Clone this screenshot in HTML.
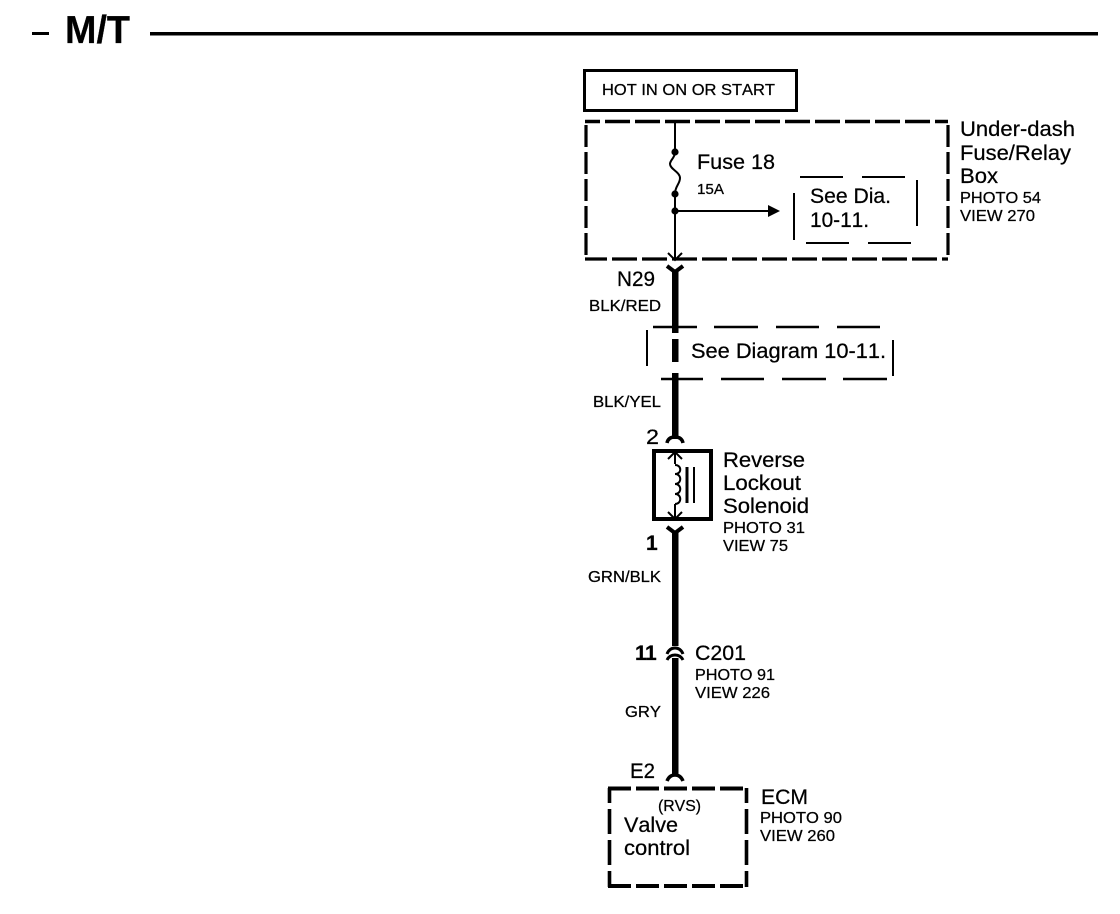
<!DOCTYPE html>
<html><head><meta charset="utf-8">
<style>
html,body{margin:0;padding:0;background:#fff;}
svg{display:block;}
text{font-family:"Liberation Sans",sans-serif;fill:#000;stroke:#000;stroke-width:.25px;font-kerning:none;}
.b{font-size:21px;}
.s{font-size:16px;}
</style></head>
<body>
<svg width="1120" height="914" viewBox="0 0 1120 914" xmlns="http://www.w3.org/2000/svg">
<rect width="1120" height="914" fill="#fff"/>

<!-- Title -->
<rect x="32" y="32" width="17" height="3"/>
<rect x="150" y="32" width="948" height="3.5"/>
<text x="65" y="43" font-size="39" font-weight="bold" textLength="65" lengthAdjust="spacingAndGlyphs">M/T</text>

<!-- HOT box -->
<rect x="584.5" y="70.5" width="212" height="40" fill="none" stroke="#000" stroke-width="3"/>
<text x="602" y="95" class="s" textLength="173" lengthAdjust="spacingAndGlyphs">HOT IN ON OR START</text>

<!-- Fuse box dashed -->
<g fill="none" stroke="#000">
<path d="M585 121.5H948" stroke-width="3.6" stroke-dasharray="25 5" stroke-dashoffset="10"/>
<path d="M585 259H948" stroke-width="3.2" stroke-dasharray="25 5" stroke-dashoffset="3"/>
<path d="M586 123V259" stroke-width="3.2" stroke-dasharray="22 5" stroke-dashoffset="-2"/>
<path d="M948 123V259" stroke-width="3.2" stroke-dasharray="22 5" stroke-dashoffset="-2"/>
</g>

<!-- Fuse wire -->
<path d="M675 121V152" stroke="#000" stroke-width="2" fill="none"/>
<path d="M675 152C675 158 670 160 670 164C670 169 680 172 680 178C680 184 675 186 675 194" stroke="#000" stroke-width="2" fill="none"/>
<path d="M675 194V259" stroke="#000" stroke-width="2" fill="none"/>
<circle cx="675" cy="152" r="3.6"/>
<circle cx="675" cy="194" r="3.6"/>
<circle cx="675" cy="211" r="3.6"/>
<path d="M675 211H770" stroke="#000" stroke-width="2"/>
<path d="M768 205L780 211L768 217Z"/>
<path d="M668 253L675 260L682 253" stroke="#000" stroke-width="2" fill="none"/>
<text x="697" y="169" class="b" textLength="78" lengthAdjust="spacingAndGlyphs">Fuse 18</text>
<text x="697" y="194" font-size="15" textLength="27" lengthAdjust="spacingAndGlyphs">15A</text>

<!-- See Dia box -->
<g stroke="#000" stroke-width="2" fill="none">
<path d="M800 177H843M862 177H905M806 243H849M868 243H911"/>
<path d="M794 193V240M917 180V226"/>
</g>
<text x="810" y="203" class="b" textLength="81" lengthAdjust="spacingAndGlyphs">See Dia.</text>
<text x="810" y="227" class="b" textLength="59" lengthAdjust="spacingAndGlyphs">10-11.</text>

<!-- Under-dash labels -->
<text x="960" y="136" class="b" textLength="115" lengthAdjust="spacingAndGlyphs">Under-dash</text>
<text x="960" y="160" class="b" textLength="111" lengthAdjust="spacingAndGlyphs">Fuse/Relay</text>
<text x="960" y="183" class="b" textLength="38" lengthAdjust="spacingAndGlyphs">Box</text>
<text x="960" y="203" class="s" textLength="81" lengthAdjust="spacingAndGlyphs">PHOTO 54</text>
<text x="960" y="221" class="s" textLength="75" lengthAdjust="spacingAndGlyphs">VIEW 270</text>

<!-- N29 connector and thick wire -->
<path d="M667 266L675 272L683 266" stroke="#000" stroke-width="4" fill="none"/>
<rect x="672" y="270" width="6.5" height="63"/>
<rect x="672" y="339" width="6.5" height="23"/>
<rect x="672" y="373" width="6.5" height="66"/>
<text x="617" y="286" class="b" textLength="38" lengthAdjust="spacingAndGlyphs">N29</text>
<text x="589" y="311" class="s" textLength="72" lengthAdjust="spacingAndGlyphs">BLK/RED</text>
<text x="593" y="407" class="s" textLength="68" lengthAdjust="spacingAndGlyphs">BLK/YEL</text>

<!-- See Diagram box -->
<g stroke="#000" stroke-width="2.4" fill="none">
<path d="M653 327H697M714 327H758M776 327H819M837 327H880"/>
<path d="M661 379H703M721 379H764M782 379H826M843 379H887"/>
</g>
<path d="M647 330V366M893 340V376" stroke="#000" stroke-width="2" fill="none"/>
<text x="691" y="358" class="b" textLength="195" lengthAdjust="spacingAndGlyphs">See Diagram 10-11.</text>

<!-- Solenoid -->
<text x="646" y="444" class="b" textLength="13" lengthAdjust="spacingAndGlyphs">2</text>
<path d="M667 443C668 438 672 437 675 437C678 437 682 438 683 443" stroke="#000" stroke-width="3.5" fill="none"/>
<rect x="654" y="451" width="57" height="68" fill="none" stroke="#000" stroke-width="4"/>
<path d="M675 452V464M675 504V519" stroke="#000" stroke-width="2" fill="none"/>
<path d="M668 459L675 452L682 459M668 512L675 519L682 512" stroke="#000" stroke-width="2" fill="none"/>
<path d="M675 465C682 465 682 474 675 474C682 474 682 484 675 484C682 484 682 494 675 494C682 494 682 504 675 504" stroke="#000" stroke-width="2" fill="none"/>
<path d="M687 467V503" stroke="#000" stroke-width="3"/>
<path d="M694 467V503" stroke="#000" stroke-width="2"/>
<path d="M667 527L675 533L683 527" stroke="#000" stroke-width="4" fill="none"/>
<rect x="672" y="531" width="6.5" height="115"/>
<text x="646" y="550" class="b" font-weight="bold">1</text>
<text x="723" y="467" class="b" textLength="82" lengthAdjust="spacingAndGlyphs">Reverse</text>
<text x="723" y="490" class="b" textLength="78" lengthAdjust="spacingAndGlyphs">Lockout</text>
<text x="723" y="513" class="b" textLength="86" lengthAdjust="spacingAndGlyphs">Solenoid</text>
<text x="723" y="533" class="s" textLength="82" lengthAdjust="spacingAndGlyphs">PHOTO 31</text>
<text x="723" y="551" class="s" textLength="65" lengthAdjust="spacingAndGlyphs">VIEW 75</text>
<text x="588" y="582" class="s" textLength="73" lengthAdjust="spacingAndGlyphs">GRN/BLK</text>

<!-- C201 -->
<path d="M667 654C669 649 672 648 675 648C678 648 681 649 683 654" stroke="#000" stroke-width="3" fill="none"/>
<path d="M667 660C669 656 672 655 675 655C678 655 681 656 683 660" stroke="#000" stroke-width="3" fill="none"/>
<rect x="672" y="658" width="6.5" height="118"/>
<text x="635 645" y="660" class="b" font-weight="bold">11</text>
<text x="695" y="660" class="b" textLength="51" lengthAdjust="spacingAndGlyphs">C201</text>
<text x="695" y="680" class="s" textLength="80" lengthAdjust="spacingAndGlyphs">PHOTO 91</text>
<text x="695" y="698" class="s" textLength="75" lengthAdjust="spacingAndGlyphs">VIEW 226</text>
<text x="625" y="717" class="s" textLength="36" lengthAdjust="spacingAndGlyphs">GRY</text>

<!-- ECM -->
<text x="630" y="778" class="b" textLength="25" lengthAdjust="spacingAndGlyphs">E2</text>
<path d="M667 781C669 776 672 775 675 775C678 775 681 776 683 781" stroke="#000" stroke-width="3.5" fill="none"/>
<path d="M608 788.5H748" fill="none" stroke="#000" stroke-width="4" stroke-dasharray="23 5"/>
<path d="M608 886H748" fill="none" stroke="#000" stroke-width="4" stroke-dasharray="23 5"/>
<path d="M609.5 788V887" fill="none" stroke="#000" stroke-width="3.6" stroke-dasharray="25 6" stroke-dashoffset="10"/>
<path d="M746.5 788V887" fill="none" stroke="#000" stroke-width="3.6" stroke-dasharray="25 6" stroke-dashoffset="10"/>
<text x="658" y="811" class="s" textLength="43" lengthAdjust="spacingAndGlyphs">(RVS)</text>
<text x="624" y="832" class="b" textLength="54" lengthAdjust="spacingAndGlyphs">Valve</text>
<text x="624" y="855" class="b" textLength="66" lengthAdjust="spacingAndGlyphs">control</text>
<text x="761" y="804" class="b" textLength="47" lengthAdjust="spacingAndGlyphs">ECM</text>
<text x="760" y="823" class="s" textLength="82" lengthAdjust="spacingAndGlyphs">PHOTO 90</text>
<text x="760" y="841" class="s" textLength="75" lengthAdjust="spacingAndGlyphs">VIEW 260</text>
</svg>
</body></html>
